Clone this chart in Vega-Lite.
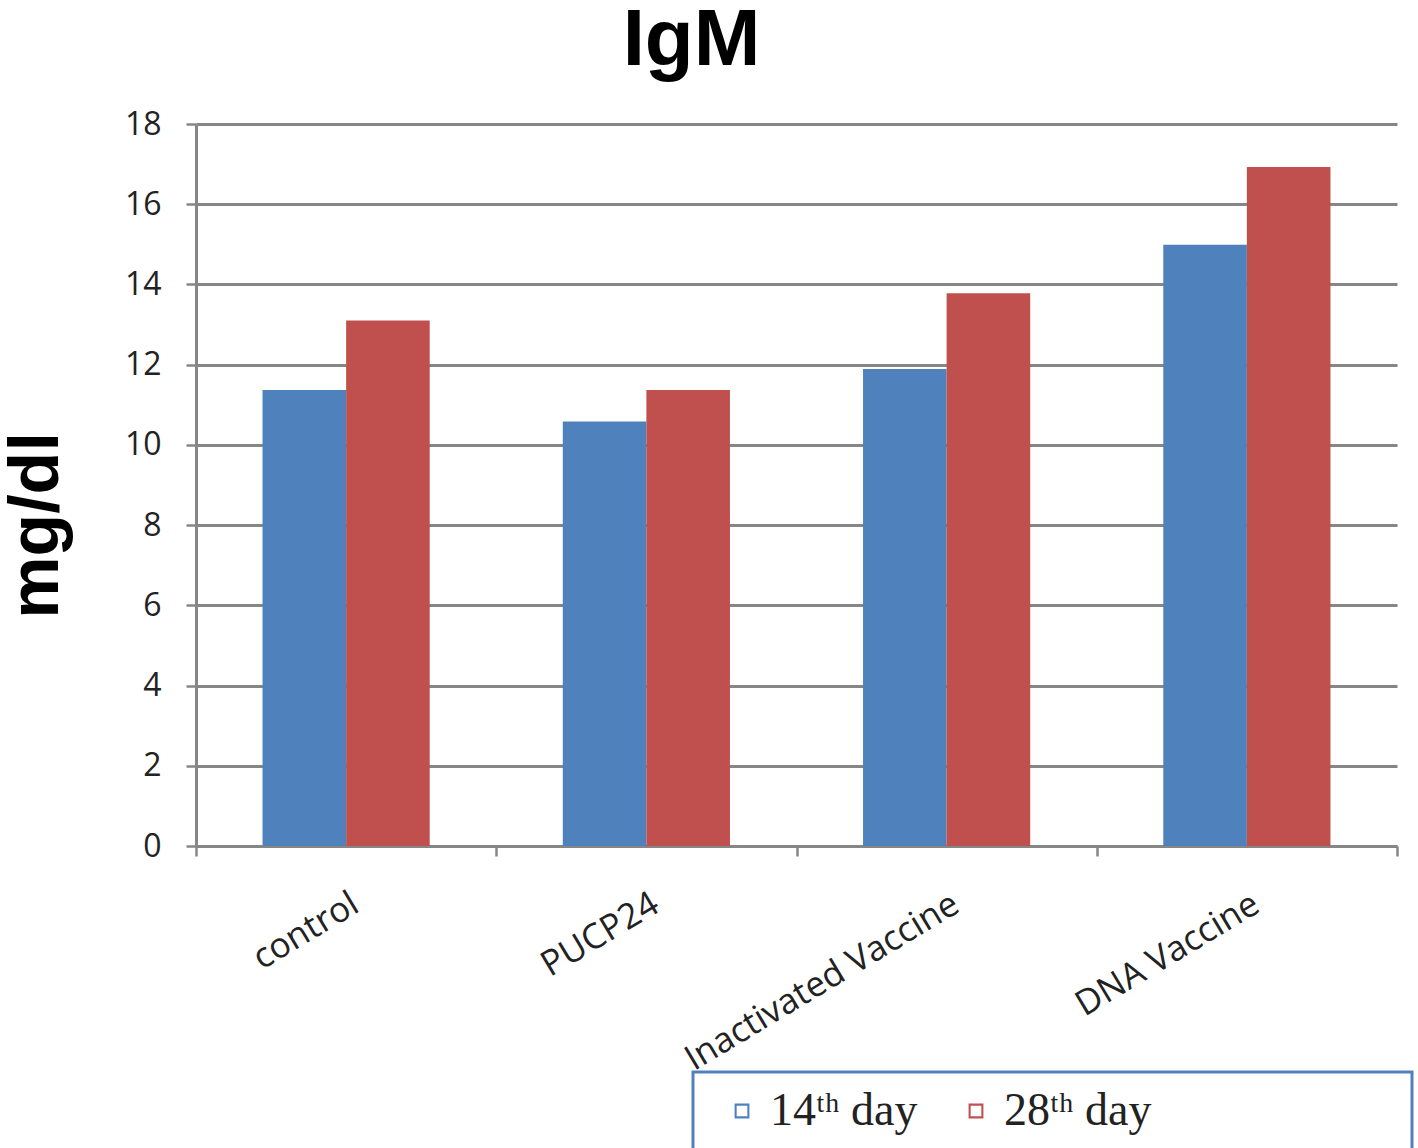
{
  "$schema": "https://vega.github.io/schema/vega-lite/v6.json",
  "width": 1201,
  "height": 722,
  "autosize": "none",
  "padding": {"left": 196, "top": 124, "right": 21, "bottom": 302},
  "background": "white",
  "title": {"text": "IgM", "font": "Liberation Sans", "fontSize": 80, "fontWeight": "bold", "color": "black", "anchor": "middle", "dx": -105, "baseline": "alphabetic", "offset": -37},
  "data": {"values": [
    {"group": "control", "day": "14ᵗʰ day", "value": 11.37},
    {"group": "control", "day": "28ᵗʰ day", "value": 13.1},
    {"group": "PUCP24", "day": "14ᵗʰ day", "value": 10.58},
    {"group": "PUCP24", "day": "28ᵗʰ day", "value": 11.37},
    {"group": "Inactivated Vaccine", "day": "14ᵗʰ day", "value": 11.89},
    {"group": "Inactivated Vaccine", "day": "28ᵗʰ day", "value": 13.78},
    {"group": "DNA Vaccine", "day": "14ᵗʰ day", "value": 14.99},
    {"group": "DNA Vaccine", "day": "28ᵗʰ day", "value": 16.93}
  ]},
  "mark": {"type": "bar"},
  "encoding": {
    "x": {
      "field": "group", "type": "nominal", "sort": null,
      "scale": {"paddingInner": 0, "paddingOuter": 0},
      "axis": {
        "title": null, "tickBand": "extent", "ticks": true, "tickSize": 10, "tickColor": "#868686", "tickWidth": 2.5,
        "domainColor": "#868686", "domainWidth": 3, "grid": false,
        "labelAngle": -31, "labelAlign": "right", "labelBaseline": "top", "labelPadding": 30, "labelLimit": 0,
        "labelFont": "Open Sans", "labelFontSize": 35, "labelColor": "#222222"
      }
    },
    "xOffset": {"field": "day", "type": "nominal", "sort": ["14ᵗʰ day", "28ᵗʰ day"], "scale": {"paddingInner": 0, "paddingOuter": 0.796}},
    "y": {
      "field": "value", "type": "quantitative",
      "scale": {"domain": [0, 18], "nice": false},
      "axis": {
        "values": [0, 2, 4, 6, 8, 10, 12, 14, 16, 18],
        "tickSize": 10, "tickColor": "#868686", "tickWidth": 2.5,
        "domainColor": "#868686", "domainWidth": 3,
        "grid": true, "gridColor": "#868686", "gridWidth": 3,
        "labelFont": "Open Sans", "labelFontSize": 32, "labelColor": "#222222", "labelPadding": 25,
        "title": "mg/dl", "titleFont": "Liberation Sans", "titleFontSize": 70, "titleFontWeight": "bold", "titleColor": "black",
        "titleX": -139, "titleY": 401, "titleAngle": -90, "titleAlign": "center", "titleBaseline": "alphabetic"
      }
    },
    "color": {
      "field": "day", "type": "nominal",
      "scale": {"domain": ["14ᵗʰ day", "28ᵗʰ day"], "range": ["#4F81BD", "#C0504D"]},
      "legend": {
        "orient": "none", "legendX": 497, "legendY": 948, "direction": "horizontal",
        "title": " ", "titleOrient": "right", "titlePadding": 244,
        "padding": 16, "strokeColor": "#4F81BD",
        "labelFont": "Liberation Serif", "labelFontSize": 46, "labelColor": "#222222",
        "symbolType": "M-1,-1H1V1H-1Z M-0.72,-0.72V0.72H0.72V-0.72Z", "symbolSize": 220, "columnPadding": 25, "labelOffset": 5, "symbolOffset": 10,
        "encode": {
          "legend": {"update": {"stroke": {"value": "#4F81BD"}, "strokeWidth": {"value": 3}}}
        }
      }
    }
  },
  "config": {"view": {"stroke": null}}
}
